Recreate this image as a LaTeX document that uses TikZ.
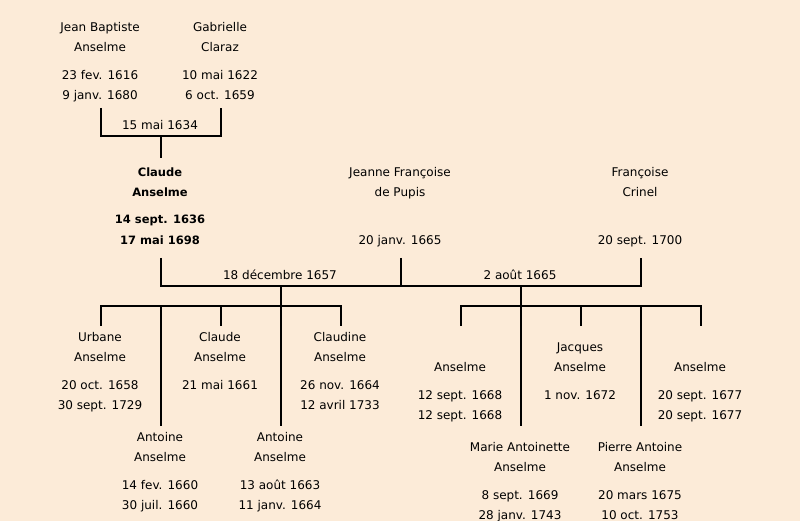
\documentclass[tikz,border=0pt]{standalone}
\usepackage{fontspec}
\setmainfont{DejaVu Sans}
\definecolor{bgpeach}{RGB}{252,235,216}
\tikzset{
  t/.style={font=\fontsize{12}{14}\selectfont, inner sep=0pt, anchor=base, text=black},
  tb/.style={t, font=\fontsize{11.5}{14}\selectfont\bfseries},
  link/.style={line width=2.4pt, draw=black, line join=miter}
}
\begin{document}
\begin{tikzpicture}[x=1pt,y=-1pt]
\fill[bgpeach] (0,0) rectangle (800,521);
\useasboundingbox (0,0) rectangle (800,521);

% Generation 1
\node[t] (jb1) at (100,31.5) {Jean Baptiste};
\node[t] (jb2) at (100,51.5) {Anselme};
\node[t] (jb3) at (100,79.5) {23 fev. 1616};
\node[t] (jb4) at (100,99.5) {9 janv. 1680};
\node[t] (gc1) at (220,31.5) {Gabrielle};
\node[t] (gc2) at (220,51.5) {Claraz};
\node[t] (gc3) at (220,79.5) {10 mai 1622};
\node[t] (gc4) at (220,99.5) {6 oct. 1659};
\node[t] (mar1) at (160,129.5) {15 mai 1634};

% Generation 2
\node[tb] (ca1) at (160,176.5) {Claude};
\node[tb] (ca2) at (160,196.5) {Anselme};
\node[tb] (ca3) at (160,223.5) {14 sept. 1636};
\node[tb] (ca4) at (160,244.5) {17 mai 1698};
\node[t] (jf1) at (400,176.5) {Jeanne Françoise};
\node[t] (jf2) at (400,196.5) {de Pupis};
\node[t] (jf3) at (400,244.5) {20 janv. 1665};
\node[t] (fc1) at (640,176.5) {Françoise};
\node[t] (fc2) at (640,196.5) {Crinel};
\node[t] (fc3) at (640,244.5) {20 sept. 1700};
\node[t] (mar2) at (280,279.5) {18 décembre 1657};
\node[t] (mar3) at (520,279.5) {2 août 1665};

% Children of first marriage
\node[t] (ub1) at (100,341.5) {Urbane};
\node[t] (ub2) at (100,361.5) {Anselme};
\node[t] (ub3) at (100,389.5) {20 oct. 1658};
\node[t] (ub4) at (100,409.5) {30 sept. 1729};
\node[t] (cl1) at (220,341.5) {Claude};
\node[t] (cl2) at (220,361.5) {Anselme};
\node[t] (cl3) at (220,389.5) {21 mai 1661};
\node[t] (cd1) at (340,341.5) {Claudine};
\node[t] (cd2) at (340,361.5) {Anselme};
\node[t] (cd3) at (340,389.5) {26 nov. 1664};
\node[t] (cd4) at (340,409.5) {12 avril 1733};
\node[t] (aa1) at (160,441.5) {Antoine};
\node[t] (aa2) at (160,461.5) {Anselme};
\node[t] (aa3) at (160,489.5) {14 fev. 1660};
\node[t] (aa4) at (160,509.5) {30 juil. 1660};
\node[t] (ab1) at (280,441.5) {Antoine};
\node[t] (ab2) at (280,461.5) {Anselme};
\node[t] (ab3) at (280,489.5) {13 août 1663};
\node[t] (ab4) at (280,509.5) {11 janv. 1664};

% Children of second marriage
\node[t] (xa2) at (460,371.5) {Anselme};
\node[t] (xa3) at (460,399.5) {12 sept. 1668};
\node[t] (xa4) at (460,419.5) {12 sept. 1668};
\node[t] (ja1) at (580,351.5) {Jacques};
\node[t] (ja2) at (580,371.5) {Anselme};
\node[t] (ja3) at (580,399.5) {1 nov. 1672};
\node[t] (xb2) at (700,371.5) {Anselme};
\node[t] (xb3) at (700,399.5) {20 sept. 1677};
\node[t] (xb4) at (700,419.5) {20 sept. 1677};
\node[t] (ma1) at (520,451.5) {Marie Antoinette};
\node[t] (ma2) at (520,471.5) {Anselme};
\node[t] (ma3) at (520,499.5) {8 sept. 1669};
\node[t] (ma4) at (520,519.5) {28 janv. 1743};
\node[t] (pa1) at (640,451.5) {Pierre Antoine};
\node[t] (pa2) at (640,471.5) {Anselme};
\node[t] (pa3) at (640,499.5) {20 mars 1675};
\node[t] (pa4) at (640,519.5) {10 oct. 1753};

% Connector points
\coordinate (jbB) at (101,108);
\coordinate (gcB) at (221,108);
\coordinate (m1) at (161,136);
\coordinate (caT) at (161,158);
\coordinate (caB) at (161,258);
\coordinate (jfB) at (401,258);
\coordinate (fcB) at (641,258);
\coordinate (m2) at (281,286);
\coordinate (m3) at (521,286);
\coordinate (jfJ) at (401,286);
\coordinate (k1) at (281,306);
\coordinate (k2) at (521,306);
\coordinate (ubT) at (101,326);
\coordinate (clT) at (221,326);
\coordinate (cdT) at (341,326);
\coordinate (aaT) at (161,426);
\coordinate (abT) at (281,426);
\coordinate (xaT) at (461,326);
\coordinate (jaT) at (581,326);
\coordinate (xbT) at (701,326);
\coordinate (maT) at (521,426);
\coordinate (paT) at (641,426);

% Connectors
\draw[link] (jbB) |- (m1) -| (gcB);
\draw[link] (m1) -- (caT);
\draw[link] (caB) |- (m2) -- (m3) -| (fcB);
\draw[link] (jfB) -- (jfJ);
\draw[link] (m2) -- (k1);
\draw[link] (m3) -- (k2);
\draw[link] (ubT) |- (k1) -| (cdT);
\draw[link] (clT) -- (clT |- k1);
\draw[link] (aaT) -- (aaT |- k1);
\draw[link] (k1) -- (abT);
\draw[link] (xaT) |- (k2) -| (xbT);
\draw[link] (jaT) -- (jaT |- k2);
\draw[link] (k2) -- (maT);
\draw[link] (paT) -- (paT |- k2);
\end{tikzpicture}
\end{document}
